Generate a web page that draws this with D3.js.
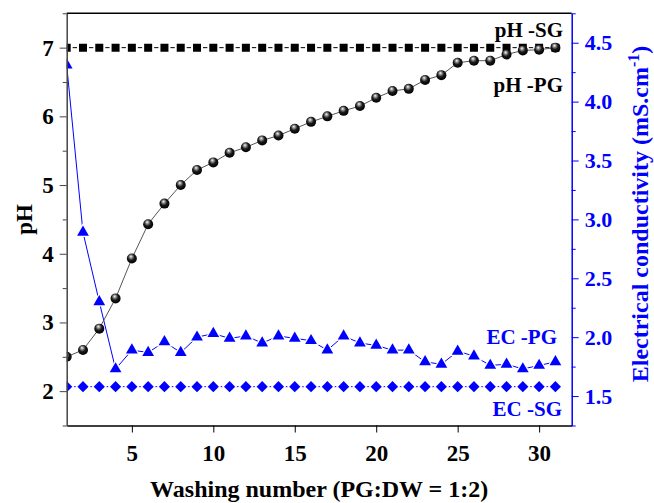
<!DOCTYPE html>
<html>
<head>
<meta charset="utf-8">
<script src="https://d3js.org/d3.v7.min.js"></script>
<style>
  body { margin: 0; background: #fff; }
  svg text { font-family: "Liberation Serif", "Times New Roman", serif; font-weight: bold; }
</style>
</head>
<body>
<div id="chart"></div>
<script>
// washing number 1..31
var washNo = d3.range(1, 32);

// pH of the phosphogypsum washes
var phPG = [2.50, 2.60, 2.91, 3.35, 3.93, 4.43, 4.73, 5.00, 5.22, 5.33,
            5.47, 5.55, 5.65, 5.72, 5.82, 5.92, 6.00, 6.08, 6.15, 6.27,
            6.37, 6.40, 6.53, 6.60, 6.78, 6.81, 6.81, 6.90, 6.96, 6.97, 7.00];
// pH of the standard gypsum (flat)
var phSG = washNo.map(function () { return 7.0; });

// electrical conductivity (mS.cm-1)
var ecPG = [4.31, 2.89, 2.30, 1.73, 1.89, 1.87, 1.96, 1.87, 2.00, 2.03,
            1.99, 2.01, 1.95, 2.01, 1.99, 1.97, 1.89, 2.01, 1.95, 1.93,
            1.89, 1.89, 1.79, 1.77, 1.88, 1.84, 1.76, 1.77, 1.73, 1.76, 1.79];
var ecSG = washNo.map(function () { return 1.58; });

var xTicks = [5, 10, 15, 20, 25, 30];
var phTicks = [2, 3, 4, 5, 6, 7];
var ecTicks = [1.5, 2.0, 2.5, 3.0, 3.5, 4.0, 4.5];

var W = 654, H = 503;
var mLeft = 66.7, mRight = 571.7, mTop = 13.3, mBottom = 425.5;

var svg = d3.select("#chart").append("svg")
  .attr("width", W).attr("height", H);

var x = d3.scaleLinear().domain([1, 32]).range([mLeft, mRight]);
var yPH = d3.scaleLinear().domain([1.5, 7.5]).range([mBottom, mTop]);
var yEC = d3.scaleLinear().domain([1.25, 4.75]).range([mBottom, mTop]);

// sphere look for the pH-PG markers
var defs = svg.append("defs");
var grad = defs.append("radialGradient").attr("id", "ball")
  .attr("cx", "45%").attr("cy", "40%").attr("r", "60%")
  .attr("fx", "40%").attr("fy", "28%");
grad.append("stop").attr("offset", "0%").attr("stop-color", "#ffffff");
grad.append("stop").attr("offset", "22%").attr("stop-color", "#9a9a9a");
grad.append("stop").attr("offset", "55%").attr("stop-color", "#1a1a1a");
grad.append("stop").attr("offset", "100%").attr("stop-color", "#000000");

defs.append("clipPath").attr("id", "clip").append("rect")
  .attr("x", mLeft).attr("y", mTop).attr("width", mRight - mLeft).attr("height", mBottom - mTop);

var plot = svg.append("g").attr("clip-path", "url(#clip)");

// x axis
var xAxis = svg.append("g")
  .attr("transform", "translate(0," + mBottom + ")")
  .call(d3.axisBottom(x).tickValues(xTicks).tickSize(7).tickPadding(12).tickSizeOuter(0));
xAxis.select(".domain").attr("stroke", "#000").attr("stroke-width", 1.5);
xAxis.selectAll("text").attr("font-size", 23).attr("fill", "#000");

// top frame
svg.append("line").attr("x1", mLeft).attr("x2", mRight).attr("y1", mTop).attr("y2", mTop)
  .attr("stroke", "#000").attr("stroke-width", 1.5);

// left pH axis
var yLeft = svg.append("g")
  .attr("transform", "translate(" + mLeft + ",0)")
  .call(d3.axisLeft(yPH).tickValues(phTicks).tickSize(7).tickPadding(6).tickSizeOuter(0)
    .tickFormat(d3.format("d")));
yLeft.select(".domain").attr("stroke", "#444").attr("stroke-width", 1.5);
yLeft.selectAll(".tick line").attr("stroke", "#444");
yLeft.selectAll("text").attr("font-size", 23).attr("fill", "#000");
svg.append("g")
  .attr("transform", "translate(" + mLeft + ",0)")
  .call(d3.axisLeft(yPH).tickValues([1.5, 2.5, 3.5, 4.5, 5.5, 6.5, 7.5]).tickSize(4).tickFormat(""))
  .call(function (g) { g.select(".domain").remove(); g.selectAll("line").attr("stroke", "#444"); });

// right EC axis
var blue = "#0000ff";
var yRight = svg.append("g")
  .attr("transform", "translate(" + mRight + ",0)")
  .call(d3.axisRight(yEC).tickValues(ecTicks).tickSize(7).tickPadding(6).tickSizeOuter(0)
    .tickFormat(d3.format(".1f")));
yRight.select(".domain").attr("stroke", blue).attr("stroke-width", 1.5);
yRight.selectAll(".tick line").attr("stroke", blue);
yRight.selectAll("text").attr("font-size", 22).attr("fill", blue);
svg.append("g")
  .attr("transform", "translate(" + mRight + ",0)")
  .call(d3.axisRight(yEC).tickValues([1.25, 1.75, 2.25, 2.75, 3.25, 3.75, 4.25, 4.75]).tickSize(4).tickFormat(""))
  .call(function (g) { g.select(".domain").remove(); g.selectAll("line").attr("stroke", blue); });

// series helper: line + markers with a white gap round each symbol
function series(vals, yScale, color, symbol, halo) {
  var line = d3.line().x(function (d, i) { return x(washNo[i]); })
    .y(function (d) { return yScale(d); });
  plot.append("path").datum(vals)
    .attr("d", line).attr("fill", "none")
    .attr("stroke", color).attr("stroke-width", 1);
  plot.selectAll(null).data(vals).enter().append("path")
    .attr("transform", function (d, i) { return "translate(" + x(washNo[i]) + "," + yScale(d) + ")"; })
    .attr("d", symbol)
    .attr("fill", color)
    .attr("stroke", "#fff")
    .attr("stroke-width", halo)
    .attr("paint-order", "stroke");
}

var square = d3.symbol().type(d3.symbolSquare).size(64)();
var diamond = "M0,-5.6L5.6,0L0,5.6L-5.6,0Z";
var triangle = d3.symbol().type(d3.symbolTriangle).size(60)();

series(phSG, yPH, "#000", square, 4);
series(ecSG, yEC, blue, diamond, 3);
series(ecPG, yEC, blue, triangle, 2.5);

// pH-PG spheres
var linePG = d3.line().x(function (d, i) { return x(washNo[i]); }).y(function (d) { return yPH(d); });
plot.append("path").datum(phPG).attr("d", linePG)
  .attr("fill", "none").attr("stroke", "#555").attr("stroke-width", 1);
plot.selectAll(".ball").data(phPG).enter().append("circle")
  .attr("class", "ball")
  .attr("cx", function (d, i) { return x(washNo[i]); })
  .attr("cy", function (d) { return yPH(d); })
  .attr("r", 5)
  .attr("fill", "url(#ball)");

// series labels
function label(txt, xr, yb, color) {
  svg.append("text").attr("x", xr).attr("y", yb)
    .attr("text-anchor", "end").attr("font-size", 21).attr("fill", color).text(txt);
}
label("pH -SG", 563, 36.7, "#000");
label("pH -PG", 563, 91.7, "#000");
label("EC -PG", 557, 344.3, blue);
label("EC -SG", 562, 415.7, blue);

// axis titles
svg.append("text").attr("x", (mLeft + mRight) / 2).attr("y", 497)
  .attr("text-anchor", "middle").attr("font-size", 24).attr("fill", "#000")
  .text("Washing number (PG:DW = 1:2)");

svg.append("text")
  .attr("transform", "translate(31.5," + ((mTop + mBottom) / 2) + ") rotate(-90)")
  .attr("text-anchor", "middle").attr("font-size", 23).attr("fill", "#000")
  .text("pH");

var ecTitle = svg.append("text")
  .attr("transform", "translate(648," + 214 + ") rotate(-90)")
  .attr("text-anchor", "middle").attr("font-size", 24).attr("fill", blue);
ecTitle.append("tspan").text("Electrical conductivity (mS.cm");
ecTitle.append("tspan").attr("dy", -9).attr("font-size", 16).text("-1");
ecTitle.append("tspan").attr("dy", 9).text(")");
</script>
</body>
</html>
